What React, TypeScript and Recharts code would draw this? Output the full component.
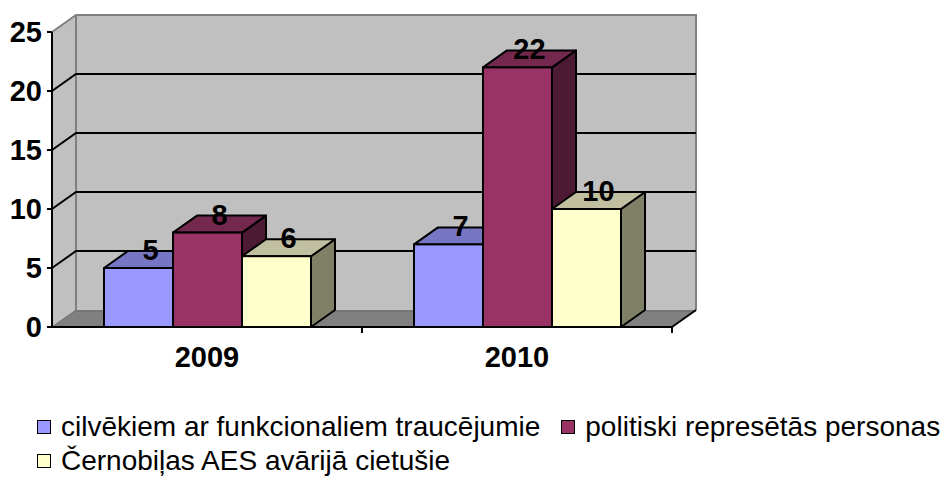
import { BarChart, Bar, XAxis, YAxis, ReferenceArea, ReferenceLine, LabelList } from 'recharts';

const years = ['2009', '2010'];
const disabled = [5, 7];
const repressed = [8, 22];
const chernobyl = [6, 10];
const yTicks = [0, 5, 10, 15, 20, 25];

const series = [
  { key: 'disabled', name: 'cilvēkiem ar funkcionaliem traucējumie', values: disabled, front: '#9999FF', top: '#7676C4', side: '#5A5A99' },
  { key: 'repressed', name: 'politiski represētās personas', values: repressed, front: '#993366', top: '#74284E', side: '#4D1A33' },
  { key: 'chernobyl', name: 'Černobiļas AES avārijā cietušie', values: chernobyl, front: '#FFFFCC', top: '#C0C0A0', side: '#808066' },
];

const data = years.map((year, i) => {
  const row: Record<string, string | number> = { year };
  series.forEach(s => { row[s.key] = s.values[i]; });
  return row;
});

const FONT = 'Arial, "Liberation Sans", sans-serif';
// 3D depth offsets
const DX = 24;
const DY = 17;

function Walls(props: any) {
  const { x, y, width: w, height: h } = props;
  const b = y + h;
  const step = w / years.length;
  return (
    <g>
      <polygon points={`${x},${y} ${x + DX},${y - DY} ${x + DX},${b - DY} ${x},${b}`} fill="#C0C0C0" />
      <polygon points={`${x + DX},${y - DY} ${x + w + DX},${y - DY} ${x + w + DX},${b - DY} ${x + DX},${b - DY}`} fill="#C0C0C0" />
      <polygon points={`${x},${b} ${x + DX},${b - DY} ${x + w + DX},${b - DY} ${x + w},${b}`} fill="#808080" />
      <path d={`M${x},${y} L${x + DX},${y - DY} L${x + w + DX},${y - DY} L${x + w + DX},${b - DY}`} stroke="#808080" strokeWidth={2} fill="none" />
      <line x1={x + DX} y1={y - DY} x2={x + DX} y2={b - DY} stroke="#808080" strokeWidth={2} />
      <line x1={x + DX} y1={b - DY + 1} x2={x + w + DX} y2={b - DY + 1} stroke="#6a6a6a" strokeWidth={1} />
      <line x1={x} y1={b} x2={x + DX} y2={b - DY} stroke="#6a6a6a" strokeWidth={1} />
      <line x1={x + w} y1={b} x2={x + w + DX} y2={b - DY} stroke="#000" strokeWidth={2} />
      {years.map((_, i) => (
        <line key={i} x1={x + step * (i + 1)} y1={b} x2={x + step * (i + 1)} y2={b + 6} stroke="#000" strokeWidth={2} />
      ))}
    </g>
  );
}

function GridLine(props: any) {
  const { x1, y1, x2, y2 } = props;
  return (
    <path d={`M${x1},${y1} L${x1 + DX},${y1 - DY} L${x2 + DX},${y2 - DY}`} stroke="#000" strokeWidth={2} fill="none" />
  );
}

function makeBox(s: typeof series[number]) {
  return (props: any) => {
    const { x, y, width: w, height: h } = props;
    return (
      <g>
        <polygon points={`${x + w},${y} ${x + w + DX},${y - DY} ${x + w + DX},${y + h - DY} ${x + w},${y + h}`} fill={s.side} stroke="#000" strokeWidth={2} strokeLinejoin="round" />
        <polygon points={`${x},${y} ${x + DX},${y - DY} ${x + w + DX},${y - DY} ${x + w},${y}`} fill={s.top} stroke="#000" strokeWidth={2} strokeLinejoin="round" />
        <rect x={x} y={y} width={w} height={h} fill={s.front} stroke="#000" strokeWidth={2} />
      </g>
    );
  };
}

function ValueLabel(props: any) {
  const { x, y, width, value } = props;
  return (
    <text x={x + width / 2 + DX / 2} y={y - 8} textAnchor="middle" fontSize={29} fontWeight="bold" fontFamily={FONT} fill="#000">
      {value}
    </text>
  );
}

export default function App() {
  return (
    <div style={{ position: 'absolute', left: 0, top: 0, width: 945, height: 482, background: '#fff', fontFamily: FONT }}>
      <BarChart
        width={945}
        height={482}
        data={data}
        margin={{ top: 32, right: 273, bottom: 125, left: 0 }}
        barGap={0}
        barSize={69}
      >
        <ReferenceArea y1={0} y2={25} shape={Walls} ifOverflow="visible" zIndex={-90} />
        {yTicks.slice(1, -1).map(v => (
          <ReferenceLine key={v} y={v} shape={GridLine} ifOverflow="visible" zIndex={-80} />
        ))}
        <XAxis
          dataKey="year"
          height={30}
          axisLine={{ stroke: '#000', strokeWidth: 2 }}
          tickLine={false}
          tickMargin={13}
          tick={{ fontSize: 29, fontWeight: 'bold', fill: '#000', fontFamily: FONT }}
        />
        <YAxis
          type="number"
          domain={[0, 25]}
          ticks={yTicks}
          width={52}
          axisLine={{ stroke: '#000', strokeWidth: 2 }}
          tickLine={{ stroke: '#000', strokeWidth: 2 }}
          tickSize={5}
          tickMargin={5}
          tick={{ fontSize: 29, fontWeight: 'bold', fill: '#000', fontFamily: FONT }}
        />
        {series.map(s => (
          <Bar key={s.key} dataKey={s.key} name={s.name} fill={s.front} shape={makeBox(s)} isAnimationActive={false}>
            <LabelList dataKey={s.key} content={ValueLabel} />
          </Bar>
        ))}
      </BarChart>
      <div
        style={{
          position: 'absolute',
          left: 37,
          top: 410,
          width: 906,
          display: 'flex',
          flexWrap: 'wrap',
          columnGap: 21,
          fontSize: 28,
          lineHeight: '34px',
          color: '#000',
        }}
      >
        {series.map(s => (
          <div key={s.key} style={{ display: 'flex', alignItems: 'center', whiteSpace: 'nowrap' }}>
            <span style={{ display: 'inline-block', width: 12, height: 12, border: '1.5px solid #000', background: s.front, marginRight: 10 }} />
            <span>{s.name}</span>
          </div>
        ))}
      </div>
    </div>
  );
}
